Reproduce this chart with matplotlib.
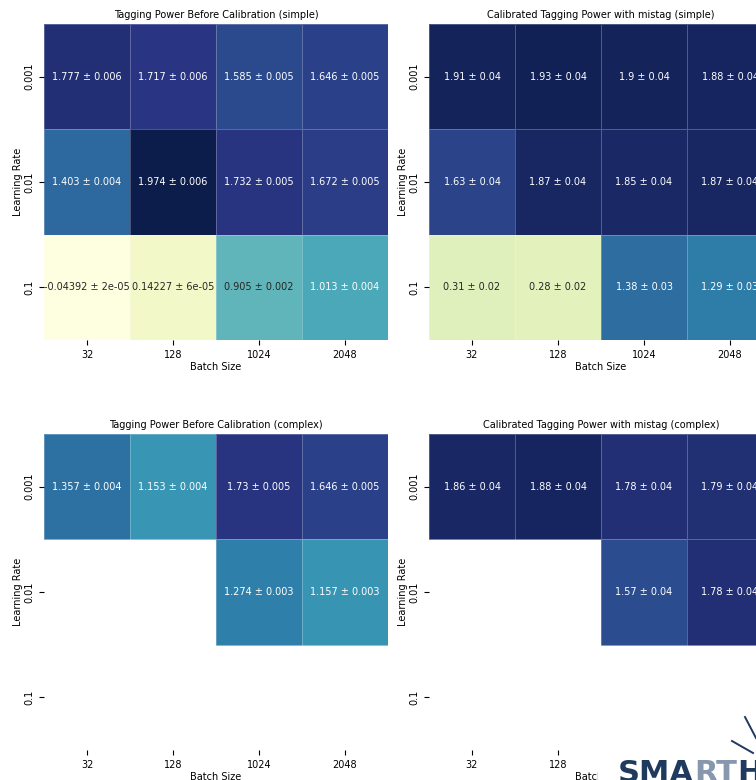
"""Tagging power heatmaps: learning rate vs batch size, simple and complex models."""

import matplotlib

matplotlib.use("Agg")
import matplotlib.pyplot as plt
import numpy as np
import seaborn as sns
from matplotlib.colors import ListedColormap, Normalize
from matplotlib.lines import Line2D
from matplotlib.patches import Rectangle

NAN = np.nan

batch_sizes = ["32", "128", "1024", "2048"]
learning_rates = ["0.001", "0.01", "0.1"]

simple_before = [[1.777, 1.717, 1.585, 1.646],
                 [1.403, 1.974, 1.732, 1.672],
                 [-0.04392, 0.14227, 0.905, 1.013]]
simple_before_err = [[0.006, 0.006, 0.005, 0.005],
                     [0.004, 0.006, 0.005, 0.005],
                     [2e-05, 6e-05, 0.002, 0.004]]

simple_cal = [[1.91, 1.93, 1.9, 1.88],
              [1.63, 1.87, 1.85, 1.87],
              [0.31, 0.28, 1.38, 1.29]]
simple_cal_err = [[0.04, 0.04, 0.04, 0.04],
                  [0.04, 0.04, 0.04, 0.04],
                  [0.02, 0.02, 0.03, 0.03]]

complex_before = [[1.357, 1.153, 1.73, 1.646],
                  [NAN, NAN, 1.274, 1.157],
                  [NAN, NAN, NAN, NAN]]
complex_before_err = [[0.004, 0.004, 0.005, 0.005],
                      [NAN, NAN, 0.003, 0.003],
                      [NAN, NAN, NAN, NAN]]

complex_cal = [[1.86, 1.88, 1.78, 1.79],
               [NAN, NAN, 1.57, 1.78],
               [NAN, NAN, NAN, NAN]]
complex_cal_err = [[0.04, 0.04, 0.04, 0.04],
                   [NAN, NAN, 0.04, 0.04],
                   [NAN, NAN, NAN, NAN]]

PANELS = [
    ("Tagging Power Before Calibration (simple)", simple_before, simple_before_err),
    ("Calibrated Tagging Power with mistag (simple)", simple_cal, simple_cal_err),
    ("Tagging Power Before Calibration (complex)", complex_before, complex_before_err),
    ("Calibrated Tagging Power with mistag (complex)", complex_cal, complex_cal_err),
]

# axes boxes in figure pixels (left, top) -- right column runs past the crop
W, H = 756, 780
AX_W, AX_H = 344, 316
AX_POS = [(44, 24), (429, 24), (44, 434), (429, 434)]


def muted_cmap(name="YlGnBu", k=0.2):
    # the screenshot looks a bit washed out, pull colours toward grey
    rgb = plt.get_cmap(name)(np.linspace(0, 1, 256))[:, :3]
    lum = (rgb @ np.array([0.299, 0.587, 0.114]))[:, None]
    return ListedColormap(rgb + k * (lum - rgb))


def annot_strings(vals, errs):
    out = []
    for vrow, erow in zip(vals, errs):
        out.append(["" if np.isnan(v) else f"{v} \u00b1 {e}" for v, e in zip(vrow, erow)])
    return np.array(out)


def main():
    all_vals = np.array([p[1] for p in PANELS], dtype=float)
    norm = Normalize(vmin=np.nanmin(all_vals), vmax=np.nanmax(all_vals))
    cmap = muted_cmap()

    fig = plt.figure(figsize=(W / 100, H / 100), dpi=100)
    for (title, vals, errs), (px, py) in zip(PANELS, AX_POS):
        ax = fig.add_axes([px / W, 1 - (py + AX_H) / H, AX_W / W, AX_H / H])
        data = np.array(vals, dtype=float)
        sns.heatmap(data, ax=ax, cmap=cmap, norm=norm, cbar=False,
                    annot=annot_strings(vals, errs), fmt="",
                    annot_kws={"fontsize": 7}, linewidths=0.4,
                    linecolor=(1, 1, 1, 0.25),
                    xticklabels=batch_sizes, yticklabels=learning_rates)
        # dark text on the light half of the scale, white on the rest
        cells = [v for v in data.ravel() if not np.isnan(v)]
        for txt, v in zip(ax.texts, cells):
            txt.set_color(".15" if norm(v) < 0.5 else "w")
        ax.set_title(title, fontsize=7, pad=4)
        ax.set_xlabel("Batch Size", fontsize=7, labelpad=2)
        ax.set_ylabel("Learning Rate", fontsize=7, labelpad=1)
        ax.tick_params(labelsize=7)
        ax.set_yticklabels(learning_rates, rotation=90, va="center")

    # logo pasted over the bottom-right corner (cropped)
    fig.add_artist(Rectangle((598 / W, 0), 158 / W, 80 / H, transform=fig.transFigure,
                             facecolor="white", edgecolor="none", zorder=10))
    fig.canvas.draw()
    r = fig.canvas.get_renderer()
    x0, yb = 618 / W, -1.5 / H
    for part, col in [("SMA", "#1e3a5f"), ("RT", "#8797ad"), ("HEP", "#1e3a5f")]:
        t = fig.text(x0, yb, part, fontsize=22, fontweight="bold", color=col,
                     ha="left", va="baseline", family="DejaVu Sans", zorder=11)
        bb = t.get_window_extent(renderer=r)
        x0 = bb.x1 / W
    for (xa, ya), (xb, yb2) in [((732, 741), (753, 753)), ((745, 717), (756, 738))]:
        fig.add_artist(Line2D([xa / W, xb / W], [1 - ya / H, 1 - yb2 / H], zorder=11,
                              color="#1e3a5f", lw=1.4, transform=fig.transFigure))

    fig.savefig("out.png", dpi=100)
    plt.close(fig)


if __name__ == "__main__":
    main()
